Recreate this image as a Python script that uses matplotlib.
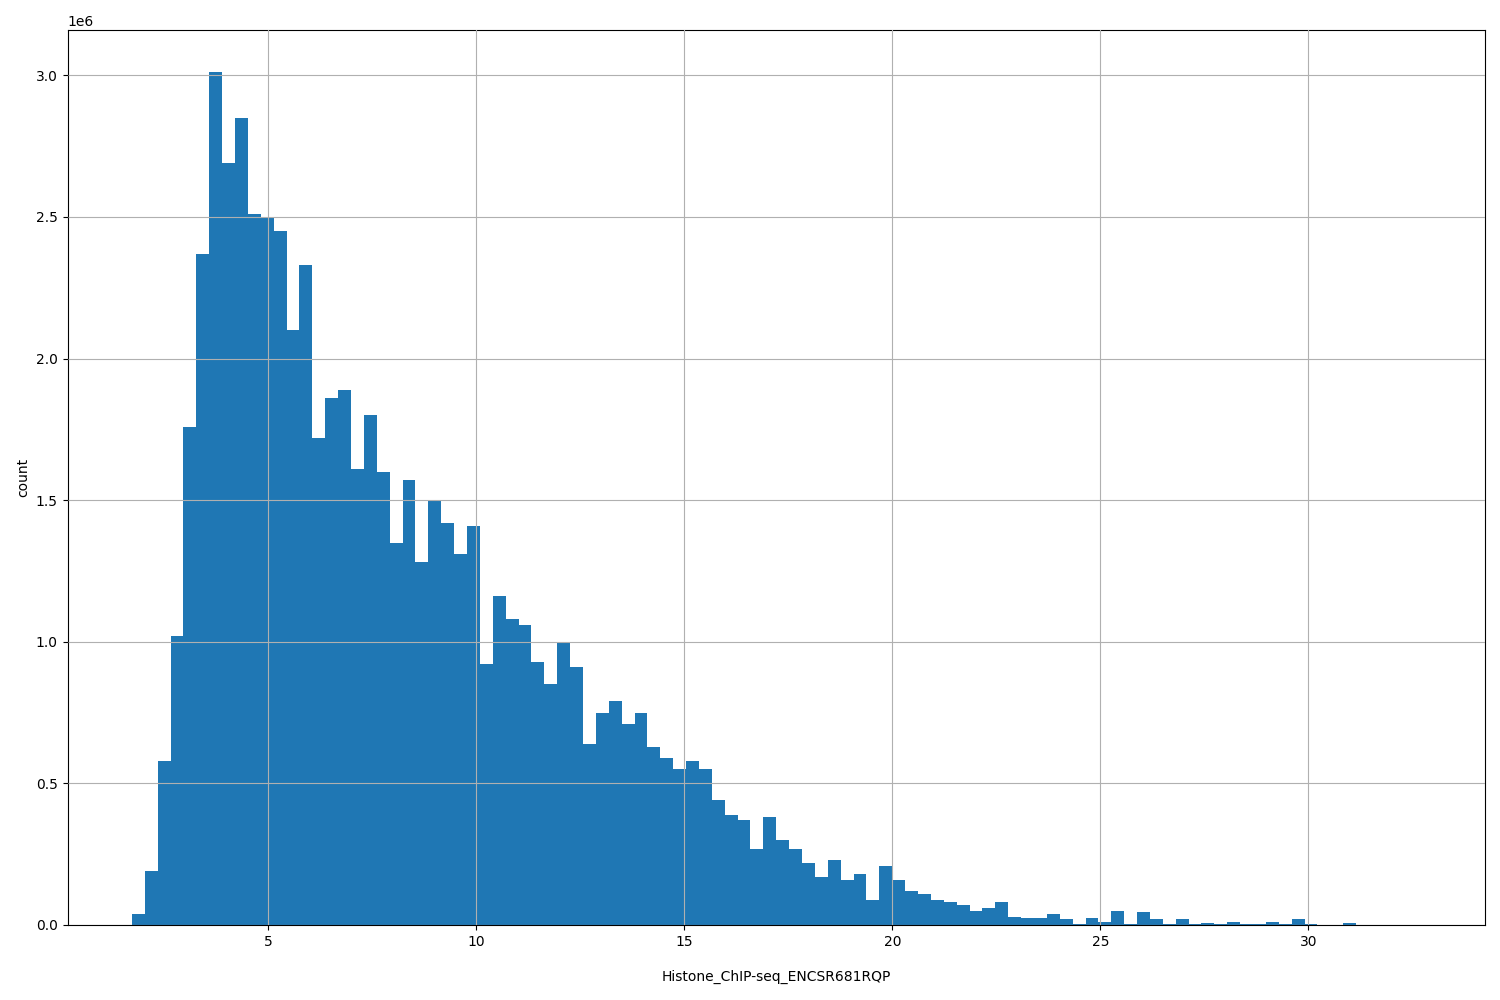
import numpy as np
import matplotlib
matplotlib.use("Agg")
import matplotlib.pyplot as plt

x_min = 1.72
x_max = 32.7
n_bins = 100

# bin counts, in millions
counts_m = [
    0.04, 0.19, 0.58, 1.02, 1.76, 2.37, 3.01, 2.69, 2.85, 2.51,
    2.50, 2.45, 2.10, 2.33, 1.72, 1.86, 1.89, 1.61, 1.80, 1.60,
    1.35, 1.57, 1.28, 1.50, 1.42, 1.31, 1.41, 0.92, 1.16, 1.08,
    1.06, 0.93, 0.85, 1.00, 0.91, 0.64, 0.75, 0.79, 0.71, 0.75,
    0.63, 0.59, 0.55, 0.58, 0.55, 0.44, 0.39, 0.37, 0.27, 0.38,
    0.30, 0.27, 0.22, 0.17, 0.23, 0.16, 0.18, 0.09, 0.21, 0.16,
    0.12, 0.11, 0.09, 0.08, 0.07, 0.05, 0.06, 0.08, 0.03, 0.025,
    0.025, 0.04, 0.02, 0.005, 0.025, 0.01, 0.05, 0.005, 0.045, 0.02,
    0.003, 0.02, 0.002, 0.008, 0.002, 0.01, 0.004, 0.004, 0.01, 0.002,
    0.02, 0.005, 0.001, 0.001, 0.008, 0.001, 0.0005, 0.0005, 0.0005, 0.001,
]

edges = np.linspace(x_min, x_max, n_bins + 1)
counts = np.array(counts_m) * 1e6

fig, ax = plt.subplots(figsize=(15, 10), dpi=100)
ax.bar(edges[:-1], counts, width=np.diff(edges), align="edge", color="#1f77b4")
ax.set_xlim(x_min - 0.05 * (x_max - x_min), x_max + 0.05 * (x_max - x_min))
ax.set_ylim(0, 3.16e6)
ax.grid(True)
ax.set_axisbelow(False)
ax.set_xlabel("Histone_ChIP-seq_ENCSR681RQP", labelpad=15)
ax.set_ylabel("count")
fig.subplots_adjust(left=0.045, right=0.99, top=0.97, bottom=0.075)
fig.savefig("out.png")
